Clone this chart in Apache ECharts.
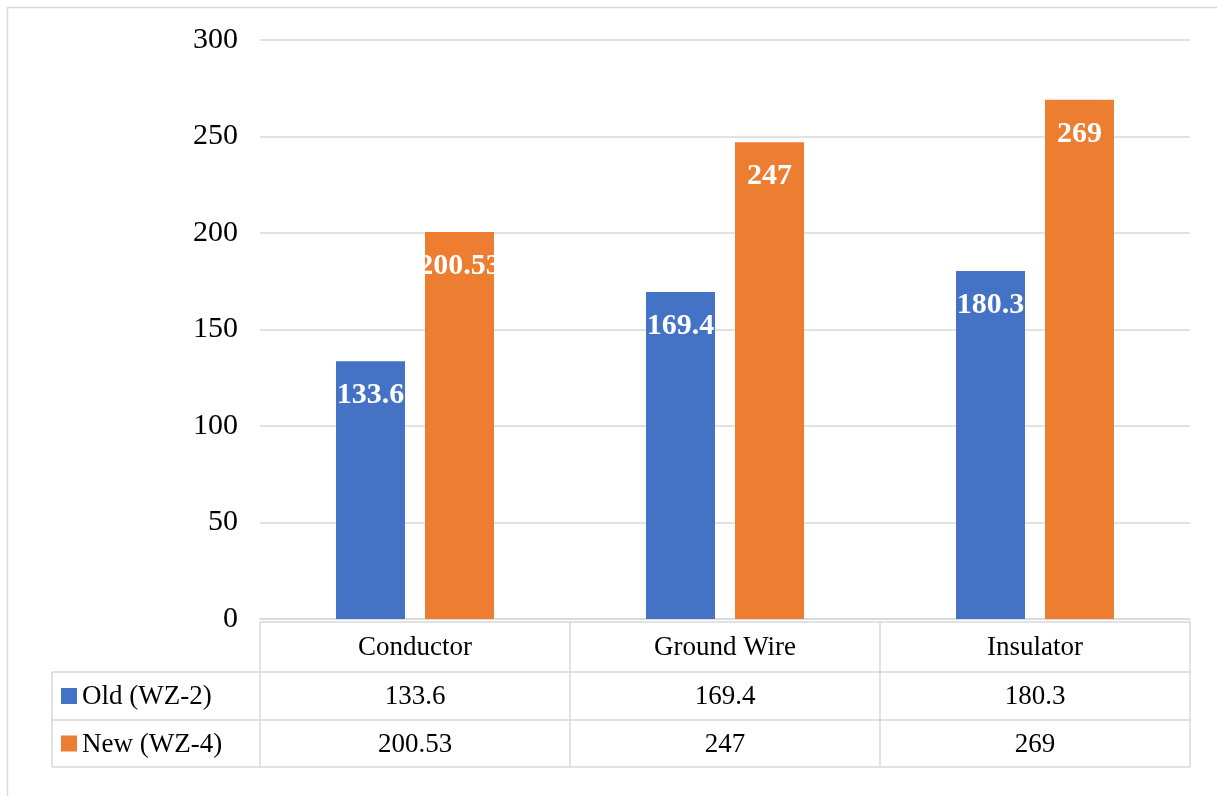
<!DOCTYPE html>
<html>
<head>
<meta charset="utf-8">
<script src="https://cdn.jsdelivr.net/npm/echarts@6/dist/echarts.min.js"></script>
<style>
  html, body { margin: 0; padding: 0; background: #fff; }
  #chart { width: 1217px; height: 796px; }
</style>
</head>
<body>
<div id="chart"></div>
<script>
// Service life comparison, old vs new tower design
const categories = ['Conductor', 'Ground Wire', 'Insulator'];
const seriesNames = ['Old (WZ-2)', 'New (WZ-4)'];
const oldValues = [133.6, 169.4, 180.3];
const newValues = [200.53, 247, 269];
const seriesColors = ['#4472C4', '#ED7D31'];

const FONT = '"Liberation Serif", "Times New Roman", serif';
const LINE = '#D9D9D9';

const gridBox = { left: 260, right: 27, top: 40, bottom: 177 };

const chart = echarts.init(document.getElementById('chart'), null, { renderer: 'canvas' });

const barLabel = {
  show: true,
  position: 'insideTop',
  distance: 19,
  color: '#fff',
  fontFamily: FONT,
  fontWeight: 'bold',
  fontSize: 30
};

chart.setOption({
  animation: false,
  backgroundColor: '#fff',
  grid: gridBox,
  xAxis: {
    type: 'category',
    data: categories,
    axisLine: { show: true, lineStyle: { color: LINE, width: 1.5 } },
    axisTick: { show: false },
    axisLabel: { show: false }
  },
  yAxis: {
    type: 'value',
    min: 0,
    max: 300,
    interval: 50,
    axisLine: { show: false },
    axisTick: { show: false },
    axisLabel: { color: '#000', fontFamily: FONT, fontSize: 30, margin: 22 },
    splitLine: { lineStyle: { color: LINE, width: 1.5 } }
  },
  series: [
    { name: seriesNames[0], type: 'bar', data: oldValues, barWidth: 69, barGap: '29%',
      itemStyle: { color: seriesColors[0] }, label: barLabel },
    { name: seriesNames[1], type: 'bar', data: newValues, barWidth: 69, barGap: '29%',
      itemStyle: { color: seriesColors[1] }, label: barLabel }
  ]
});

// Data table under the plot, laid out from the category axis
function buildTable() {
  const W = chart.getWidth();
  const plotL = gridBox.left;
  const plotR = W - gridBox.right;
  const band = (plotR - plotL) / categories.length;
  const tableTop = 622, headerBottom = 672, row1Bottom = 720, tableBottom = 767;
  const legendL = 52;
  const g = [];
  const ln = (x1, y1, x2, y2) => g.push({
    type: 'line', shape: { x1, y1, x2, y2 },
    style: { stroke: LINE, lineWidth: 1.5 }, silent: true
  });
  const txt = (x, y, text, align) => g.push({
    type: 'text', x, y,
    style: { text, fill: '#000', font: '27px ' + FONT, align: align || 'center', verticalAlign: 'middle' },
    silent: true
  });

  // outer frame
  g.push({ type: 'rect', shape: { x: 7.5, y: 7.5, width: 1400, height: 1000 },
    style: { fill: 'none', stroke: LINE, lineWidth: 1.5 }, silent: true });

  // horizontal rules
  ln(plotL, tableTop, plotR, tableTop);
  ln(legendL, headerBottom, plotR, headerBottom);
  ln(legendL, row1Bottom, plotR, row1Bottom);
  ln(legendL, tableBottom, plotR, tableBottom);
  // vertical rules
  ln(legendL, headerBottom, legendL, tableBottom);
  for (let i = 0; i <= categories.length; i++) {
    const x = plotL + band * i;
    ln(x, tableTop, x, tableBottom);
  }

  const rowMid = [(tableTop + headerBottom) / 2, (headerBottom + row1Bottom) / 2, (row1Bottom + tableBottom) / 2];
  const rows = [oldValues, newValues];

  categories.forEach((c, i) => {
    const cx = chart.convertToPixel({ xAxisIndex: 0 }, c);
    txt(cx, rowMid[0] + 1, c);
    rows.forEach((vals, r) => txt(cx, rowMid[r + 1] + 1, String(vals[i])));
  });

  seriesNames.forEach((name, r) => {
    const cy = rowMid[r + 1];
    g.push({ type: 'rect', shape: { x: 61, y: cy - 8, width: 16, height: 16 },
      style: { fill: seriesColors[r] }, silent: true });
    txt(82, cy + 1, name, 'left');
  });

  chart.setOption({ graphic: { elements: g } });
}

buildTable();
</script>
</body>
</html>
